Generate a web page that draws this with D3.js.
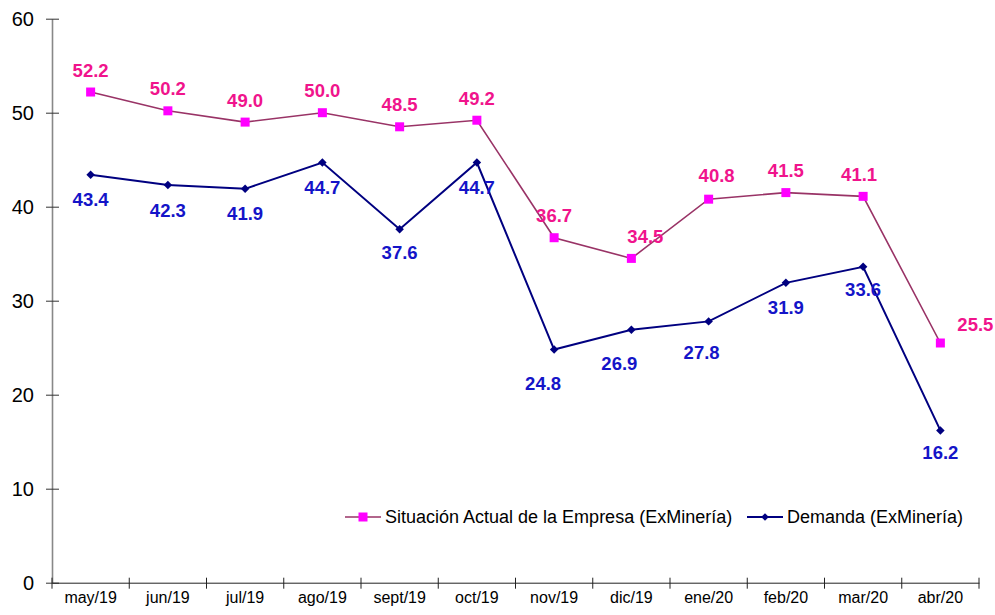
<!DOCTYPE html>
<html>
<head>
<meta charset="utf-8">
<script src="https://cdn.jsdelivr.net/npm/d3@7"></script>
<style>
  html, body { margin: 0; padding: 0; background: #fff; overflow: hidden; }
  svg { display: block; font-family: "Liberation Sans", Arial, sans-serif; }
</style>
</head>
<body>
<div id="chart"></div>
<script>
// Data
const months = ["may/19", "jun/19", "jul/19", "ago/19", "sept/19", "oct/19",
                "nov/19", "dic/19", "ene/20", "feb/20", "mar/20", "abr/20"];
const situacion = [52.2, 50.2, 49.0, 50.0, 48.5, 49.2, 36.7, 34.5, 40.8, 41.5, 41.1, 25.5];
const demanda = [43.4, 42.3, 41.9, 44.7, 37.6, 44.7, 24.8, 26.9, 27.8, 31.9, 33.6, 16.2];
const yTicks = [0, 10, 20, 30, 40, 50, 60];

// label nudges (layout only), [dx, dy] from the point
const sitOffsets = [[0,-22],[0,-22],[0,-22],[0,-22],[0,-22],[0,-22],
                    [0,-22],[14,-22],[8,-24],[0,-22],[-4,-22],[35,-18]];
const demOffsets = [[0,25],[0,25],[0,25],[0,25],[0,23],[0,25],
                    [-11,34],[-12,34],[-7,31],[0,25],[0,23],[0,22]];

const width = 995, height = 615;
const margin = { top: 18.7, right: 16, bottom: 32.3, left: 52 };
const innerWidth = width - margin.left - margin.right;
const innerHeight = height - margin.top - margin.bottom;

const svg = d3.select("#chart")
    .append("svg")
    .attr("width", width)
    .attr("height", height);

const inner = svg.append("g")
    .attr("transform", `translate(${margin.left},${margin.top})`);

// Scales
const xScale = d3.scaleBand()
    .domain(months)
    .range([0, innerWidth]);

const yScale = d3.scaleLinear()
    .domain([0, 60])
    .range([innerHeight, 0]);

const xMid = d => xScale(d) + xScale.bandwidth() / 2;

// Y axis
const yAxis = inner.append("g")
    .call(d3.axisLeft(yScale).tickValues(yTicks).tickSize(0).tickPadding(18).tickFormat(d3.format("d")));
yAxis.select(".domain").attr("stroke", "#888").attr("stroke-width", 1.6);
yAxis.selectAll("text")
    .style("font-size", "20px")
    .attr("fill", "#000");
yAxis.selectAll(".tick").append("line")
    .attr("x1", -6).attr("x2", 7)
    .attr("stroke", "#333").attr("stroke-width", 1);

// X axis
const xAxis = inner.append("g")
    .attr("transform", `translate(0,${innerHeight})`)
    .call(d3.axisBottom(xScale).tickSize(0).tickPadding(9));
xAxis.select(".domain").attr("stroke", "#222").attr("stroke-width", 1);
xAxis.selectAll("text")
    .style("font-size", "16px")
    .attr("fill", "#000");
// ticks at category boundaries
const bounds = months.map(m => xScale(m)).concat([innerWidth]);
xAxis.selectAll(".bound")
    .data(bounds)
    .join("line")
    .attr("class", "bound")
    .attr("x1", d => d).attr("x2", d => d)
    .attr("y1", -5).attr("y2", 6)
    .attr("stroke", "#222");

// Lines
const line = d3.line()
    .x((d, i) => xMid(months[i]))
    .y(d => yScale(d));

inner.append("path")
    .datum(situacion)
    .attr("fill", "none")
    .attr("stroke", "#993366")
    .attr("stroke-width", 1.6)
    .attr("d", line);

inner.append("path")
    .datum(demanda)
    .attr("fill", "none")
    .attr("stroke", "#000080")
    .attr("stroke-width", 2)
    .attr("d", line);

// Markers
const sq = 9;
inner.selectAll(".sq")
    .data(situacion)
    .join("rect")
    .attr("class", "sq")
    .attr("x", (d, i) => xMid(months[i]) - sq / 2)
    .attr("y", d => yScale(d) - sq / 2)
    .attr("width", sq).attr("height", sq)
    .attr("fill", "#FF00FF");

inner.selectAll(".dm")
    .data(demanda)
    .join("path")
    .attr("class", "dm")
    .attr("transform", (d, i) => `translate(${xMid(months[i])},${yScale(d)}) rotate(45)`)
    .attr("d", d3.symbol().type(d3.symbolSquare).size(36))
    .attr("fill", "#000080");

// Data labels
inner.selectAll(".lblS")
    .data(situacion)
    .join("text")
    .attr("class", "lblS")
    .attr("x", (d, i) => xMid(months[i]) + sitOffsets[i][0])
    .attr("y", (d, i) => yScale(d) + sitOffsets[i][1])
    .attr("text-anchor", "middle")
    .attr("dominant-baseline", "central")
    .attr("fill", "#F0148C")
    .style("font-size", "18.5px")
    .style("font-weight", "bold")
    .text(d => d.toFixed(1));

inner.selectAll(".lblD")
    .data(demanda)
    .join("text")
    .attr("class", "lblD")
    .attr("x", (d, i) => xMid(months[i]) + demOffsets[i][0])
    .attr("y", (d, i) => yScale(d) + demOffsets[i][1])
    .attr("text-anchor", "middle")
    .attr("dominant-baseline", "central")
    .attr("fill", "#1414C8")
    .style("font-size", "18.5px")
    .style("font-weight", "bold")
    .text(d => d.toFixed(1));

// Legend
const legendItems = [
    { name: "Situación Actual de la Empresa (ExMinería)", color: "#993366", marker: "square", x: 345 },
    { name: "Demanda (ExMinería)", color: "#000080", marker: "diamond", x: 747 }
];
const legendY = 517;
legendItems.forEach(item => {
    const g = svg.append("g").attr("transform", `translate(${item.x},${legendY})`);
    g.append("line")
        .attr("x1", 0).attr("x2", 36)
        .attr("stroke", item.color)
        .attr("stroke-width", item.marker === "square" ? 1.6 : 2);
    if (item.marker === "square") {
        g.append("rect")
            .attr("x", 18 - 4.5).attr("y", -4.5)
            .attr("width", 9).attr("height", 9)
            .attr("fill", "#FF00FF");
    } else {
        g.append("path")
            .attr("transform", "translate(18,0) rotate(45)")
            .attr("d", d3.symbol().type(d3.symbolSquare).size(30))
            .attr("fill", "#000080");
    }
    g.append("text")
        .attr("x", 40)
        .attr("y", 0)
        .attr("dominant-baseline", "central")
        .style("font-size", "18px")
        .attr("fill", "#000")
        .text(item.name);
});
</script>
</body>
</html>
